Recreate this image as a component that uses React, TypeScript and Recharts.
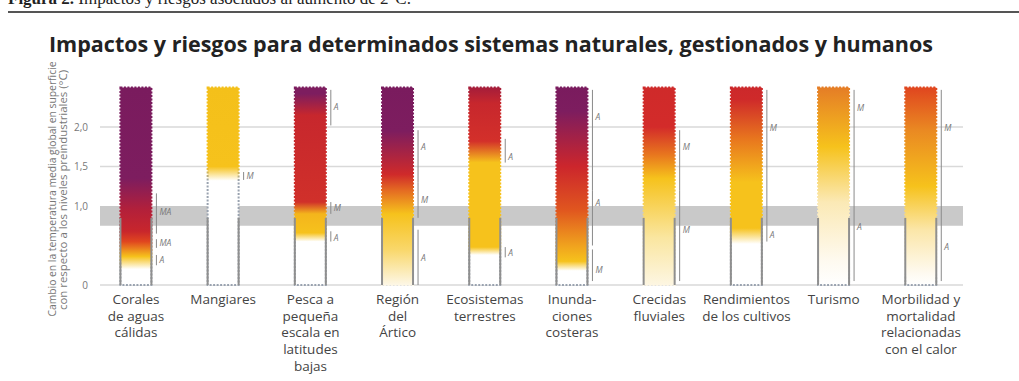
import React from 'react';
import { ComposedChart, Bar, XAxis, YAxis, ReferenceArea, CartesianGrid } from 'recharts';

// category labels, one entry per line of the tick text
const categories = [
  ['Corales', 'de aguas', 'cálidas'],
  ['Mangiares'],
  ['Pesca a', 'pequeña', 'escala en', 'latitudes', 'bajas'],
  ['Región', 'del', 'Ártico'],
  ['Ecosistemas', 'terrestres'],
  ['Inunda-', 'ciones', 'costeras'],
  ['Crecidas', 'fluviales'],
  ['Rendimientos', 'de los cultivos'],
  ['Turismo'],
  ['Morbilidad y', 'mortalidad', 'relacionadas', 'con el calor'],
];

// every risk bar runs from 0 °C to this level
const barTops = [2.5, 2.5, 2.5, 2.5, 2.5, 2.5, 2.5, 2.5, 2.5, 2.5];

// colour transitions along each bar: [°C, colour]
const riskStops: [number, string][][] = [
  [[0, '#ffffff'], [0.2, '#ffffff'], [0.36, '#f6c21c'], [0.55, '#e0461f'], [0.68, '#c8262c'], [0.95, '#b3203a'], [1.35, '#7d1d5f'], [2.5, '#7a1b5e']],
  [[0, '#ffffff'], [1.32, '#ffffff'], [1.5, '#f6c21c'], [2.5, '#f4c01a']],
  [[0, '#ffffff'], [0.55, '#ffffff'], [0.66, '#f6c21c'], [0.9, '#f4b51c'], [1.05, '#d0302a'], [2.15, '#c7272d'], [2.42, '#7d1d5f'], [2.5, '#7d1d5f']],
  [[0, '#fdf7e6'], [0.45, '#f9d76a'], [0.9, '#f6c21c'], [1.2, '#e46a22'], [1.4, '#cf2a2a'], [1.95, '#7d1d5f'], [2.5, '#7a1b5e']],
  [[0, '#ffffff'], [0.38, '#ffffff'], [0.48, '#f6c21c'], [1.55, '#f6c21c'], [1.82, '#d3302a'], [2.3, '#c7272d'], [2.5, '#a51d3a']],
  [[0, '#ffffff'], [0.18, '#ffffff'], [0.3, '#f6c21c'], [0.5, '#f0a21e'], [0.95, '#e0561f'], [1.5, '#cc262c'], [2.2, '#7d1d5f'], [2.5, '#7a1b5e']],
  [[0, '#fdf6e2'], [0.6, '#fae6a0'], [1.35, '#f6c21c'], [1.65, '#e8761e'], [2.0, '#d32b2a'], [2.5, '#cf2a2a']],
  [[0, '#ffffff'], [0.52, '#ffffff'], [0.72, '#f6c21c'], [1.3, '#f6c21c'], [1.85, '#e8761e'], [2.35, '#cf2a2a'], [2.5, '#cc282b']],
  [[0, '#ffffff'], [0.3, '#fefaf0'], [1.05, '#fbe9b5'], [1.75, '#f6c21c'], [2.5, '#e57d26']],
  [[0, '#ffffff'], [0.15, '#fefaf0'], [0.7, '#fbe6a8'], [1.25, '#f6c21c'], [1.95, '#ea8a22'], [2.5, '#e0461f']],
];

// confidence brackets beside each bar (A alta, M media, MA muy alta)
const confidence = [
  [{ lo: 0.65, hi: 1.16, label: 'MA', at: 0.92 }, { lo: 0.47, hi: 0.58, label: 'MA', at: 0.53 }, { lo: 0.25, hi: 0.38, label: 'A', at: 0.32 }],
  [{ lo: 1.33, hi: 1.43, label: 'M', at: 1.38 }],
  [{ lo: 2.02, hi: 2.47, label: 'A', at: 2.25 }, { lo: 0.9, hi: 1.05, label: 'M', at: 0.98 }, { lo: 0.55, hi: 0.68, label: 'A', at: 0.6 }],
  [{ lo: 1.3, hi: 1.96, label: 'A', at: 1.75 }, { lo: 0.85, hi: 1.3, label: 'M', at: 1.08 }, { lo: 0, hi: 0.7, label: 'A', at: 0.34 }],
  [{ lo: 1.55, hi: 1.85, label: 'A', at: 1.62 }, { lo: 0.35, hi: 0.48, label: 'A', at: 0.4 }],
  [{ lo: 1.2, hi: 2.47, label: 'A', at: 2.13 }, { lo: 0.5, hi: 1.2, label: 'A', at: 1.04 }, { lo: 0.05, hi: 0.45, label: 'M', at: 0.19 }],
  [{ lo: 1.2, hi: 1.96, label: 'M', at: 1.75 }, { lo: 0.05, hi: 1.2, label: 'M', at: 0.7 }],
  [{ lo: 0.75, hi: 2.47, label: 'M', at: 1.99 }, { lo: 0.55, hi: 0.75, label: 'A', at: 0.63 }],
  [{ lo: 1.0, hi: 2.47, label: 'M', at: 2.24 }, { lo: 0.05, hi: 1.0, label: 'A', at: 0.73 }],
  [{ lo: 1.0, hi: 2.47, label: 'M', at: 1.99 }, { lo: 0.05, hi: 1.0, label: 'A', at: 0.48 }],
];

const yTicks = [0, 1, 1.5, 2];
const gridLevels = [0, 1.5, 2];
const presentWarming = [0.75, 1.0]; // grey band
const observedTop = 0.85; // solid grey edges below this level

const chartData = categories.map((c, i) => ({ idx: i, top: barTops[i] }));

const fmt = (v: number) => (v === 0 ? '0' : v.toFixed(1).replace('.', ','));

const RiskBar = (props: any) => {
  const { x, y, width, height, index } = props;
  const top = barTops[index];
  const py = (t: number) => y + height - (t / top) * height;
  const lx = x + width + 5;
  return (
    <g>
      <rect x={x} y={y} width={width} height={height} fill={`url(#risk${index})`} />
      <rect x={x} y={y} width={width} height={height} fill="none" stroke={`url(#edge${index})`} strokeWidth={2} strokeDasharray="2 1.5" />
      <line x1={x} x2={x} y1={py(0)} y2={py(observedTop)} stroke="#8f8f8f" strokeWidth={2} />
      <line x1={x + width} x2={x + width} y1={py(0)} y2={py(observedTop)} stroke="#8f8f8f" strokeWidth={2} />
      {confidence[index].map((c, k) => (
        <g key={k}>
          <line x1={lx} x2={lx} y1={py(c.lo)} y2={py(c.hi)} stroke="#8a8a8a" strokeWidth={1} />
          <text x={lx + 3} y={py(c.at)} dy="0.35em" fontSize={8.5} fontStyle="italic" fill="#777" fontFamily="Open Sans">
            {c.label}
          </text>
        </g>
      ))}
    </g>
  );
};

const CategoryTick = (props: any) => {
  const { x, y, payload } = props;
  const lines = categories[payload.value] || [];
  return (
    <text x={x} y={y + 19} textAnchor="middle" fontSize={13.5} fill="#444" fontFamily="Open Sans">
      {lines.map((l, k) => (
        <tspan key={k} x={x} dy={k === 0 ? 0 : 16.7}>
          {l}
        </tspan>
      ))}
    </text>
  );
};

export default function App() {
  return (
    <div style={{ position: 'absolute', left: 0, top: 0, width: 1019, height: 381, background: '#fff' }}>
      <svg width={1019} height={381} style={{ position: 'absolute', left: 0, top: 0 }}>
        <text x={8} y={4} fontFamily="Liberation Serif" fontSize={17} fill="#222">
          <tspan fontWeight="bold">Figura 2.</tspan> Impactos y riesgos asociados al aumento de 2°C.
        </text>
        <line x1={8} x2={1019} y1={12} y2={12} stroke="#555" strokeWidth={2} />
        <text x={49} y={52} fontFamily="Open Sans" fontWeight={700} fontSize={22} fill="#222" textLength={884} lengthAdjust="spacingAndGlyphs">
          Impactos y riesgos para determinados sistemas naturales, gestionados y humanos
        </text>
        <text transform="translate(56,189) rotate(-90)" textAnchor="middle" fontFamily="Open Sans" fontSize={10} fill="#777" textLength={255} lengthAdjust="spacingAndGlyphs">
          Cambio en la temperatura media global en superficie
        </text>
        <text transform="translate(67,190) rotate(-90)" textAnchor="middle" fontFamily="Open Sans" fontSize={10} fill="#777" textLength={240} lengthAdjust="spacingAndGlyphs">
          con respecto a los niveles preindustriales (°C)
        </text>
      </svg>
      <div style={{ position: 'absolute', left: 0, top: 0 }}>
        <ComposedChart width={1019} height={381} data={chartData} margin={{ top: 87.5, right: 56, bottom: 0, left: 0 }}>
          <defs>
            {riskStops.map((stops, i) => (
              <linearGradient key={`r${i}`} id={`risk${i}`} x1="0" y1="1" x2="0" y2="0">
                {stops.map(([t, c], k) => (
                  <stop key={k} offset={t / barTops[i]} stopColor={c} />
                ))}
              </linearGradient>
            ))}
            {riskStops.map((stops, i) => (
              <linearGradient key={`e${i}`} id={`edge${i}`} x1="0" y1="1" x2="0" y2="0">
                {stops.map(([t, c], k) => (
                  <stop key={k} offset={t / barTops[i]} stopColor={c === '#ffffff' ? '#9aa3b0' : c} />
                ))}
              </linearGradient>
            ))}
          </defs>
          <CartesianGrid vertical={false} horizontalValues={gridLevels} stroke="#d9d9d9" strokeWidth={1.5} />
          <XAxis
            dataKey="idx"
            type="number"
            domain={[-0.413, 9.483]}
            allowDataOverflow
            ticks={[0, 1, 2, 3, 4, 5, 6, 7, 8, 9]}
            tick={<CategoryTick />}
            tickLine={false}
            axisLine={false}
            tickSize={0}
            tickMargin={0}
            height={96}
            interval={0}
          />
          <YAxis
            type="number"
            domain={[0, 2.5]}
            ticks={yTicks}
            tickFormatter={fmt}
            tickLine={false}
            axisLine={false}
            tickSize={2}
            tickMargin={10}
            width={100}
            tick={{ fill: '#777', fontSize: 10, fontFamily: 'Open Sans' }}
          />
          <ReferenceArea y1={presentWarming[0]} y2={presentWarming[1]} fill="#c9c9c9" fillOpacity={1} stroke="none" />
          <Bar dataKey="top" barSize={31} shape={<RiskBar />} isAnimationActive={false} />
        </ComposedChart>
      </div>
    </div>
  );
}
